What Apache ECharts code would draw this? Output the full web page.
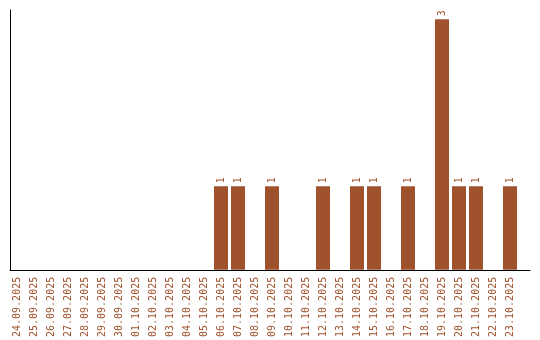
<!DOCTYPE html>
<html>
<head>
<meta charset="utf-8">
<script src="https://cdn.jsdelivr.net/npm/echarts@6/dist/echarts.min.js"></script>
<style>html,body{margin:0;padding:0;background:#fff}#c{width:540px;height:340px}</style>
</head>
<body>
<div id="c"></div>
<script>
const categories = ['24.09.2025','25.09.2025','26.09.2025','27.09.2025','28.09.2025','29.09.2025','30.09.2025','01.10.2025','02.10.2025','03.10.2025','04.10.2025','05.10.2025','06.10.2025','07.10.2025','08.10.2025','09.10.2025','10.10.2025','11.10.2025','12.10.2025','13.10.2025','14.10.2025','15.10.2025','16.10.2025','17.10.2025','18.10.2025','19.10.2025','20.10.2025','21.10.2025','22.10.2025','23.10.2025'];
const counts = [0,0,0,0,0,0,0,0,0,0,0,0,1,1,0,1,0,0,1,0,1,1,0,1,0,3,1,1,0,1];

const brown = '#a0522d';
const chart = echarts.init(document.getElementById('c'), null, {renderer: 'canvas'});
chart.setOption({
  animation: false,
  backgroundColor: '#fff',
  grid: [
    {left: 8.5, top: 10, width: 510, height: 260},
    {left: 10, top: 10, right: 10, height: 260}
  ],
  xAxis: [
    {
      type: 'category', gridIndex: 0, data: categories,
      axisLine: {show: false}, axisTick: {show: false},
      axisLabel: {rotate: 90, interval: 0, margin: 7, color: brown,
        fontFamily: 'DejaVu Sans Mono', fontSize: 10}
    },
    {
      type: 'value', gridIndex: 1, min: 0, max: 1,
      axisLine: {show: true, onZero: false, lineStyle: {color: '#000', width: 1}},
      axisTick: {show: false}, axisLabel: {show: false}, splitLine: {show: false}
    }
  ],
  yAxis: [
    {
      type: 'value', gridIndex: 0, min: 0, max: 3.11,
      axisLine: {show: false}, axisTick: {show: false},
      axisLabel: {show: false}, splitLine: {show: false}
    },
    {
      type: 'value', gridIndex: 1, min: 0, max: 1,
      axisLine: {show: true, onZero: false, lineStyle: {color: '#000', width: 1}},
      axisTick: {show: false}, axisLabel: {show: false}, splitLine: {show: false}
    }
  ],
  series: [{
    type: 'bar', xAxisIndex: 0, yAxisIndex: 0,
    data: counts, barWidth: 14,
    itemStyle: {color: brown},
    label: {
      show: true, position: 'top', distance: 3, rotate: 90,
      align: 'left', verticalAlign: 'middle',
      color: brown, fontFamily: 'DejaVu Sans Mono', fontSize: 10,
      formatter: p => p.value ? String(p.value) : ''
    }
  }]
});
</script>
</body>
</html>
